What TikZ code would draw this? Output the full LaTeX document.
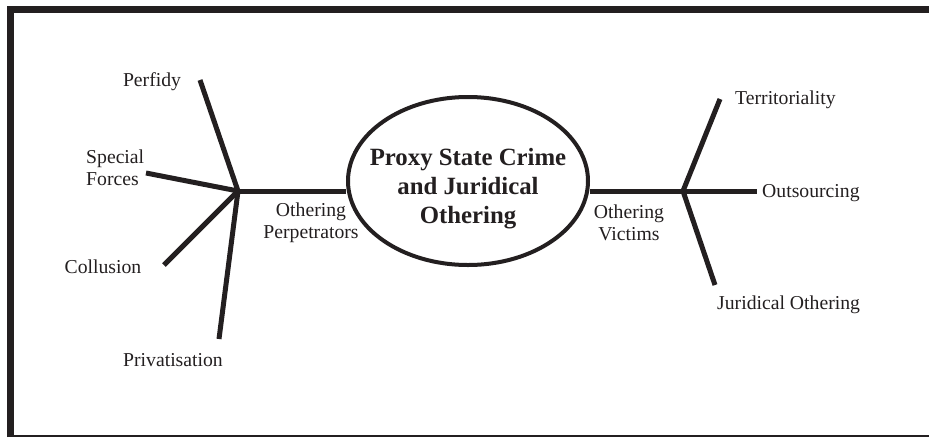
\documentclass[tikz,border=0pt]{standalone}
\usepackage{fontspec}
\setmainfont{Liberation Serif}
\usetikzlibrary{shapes.geometric}
\definecolor{psink}{HTML}{231F20}

\begin{document}
\begin{tikzpicture}[x=1pt, y=-1pt,
    branch/.style={draw=psink, line width=5pt},
    leaf/.style={text=psink, inner sep=0pt, align=center,
                 font=\fontsize{19.7}{22}\selectfont},
    coreshape/.style={ellipse, draw=psink, line width=4pt,
                      minimum width=240pt, minimum height=168pt, inner sep=0pt},
    coretext/.style={text=psink, inner sep=0pt, align=center,
                     font=\bfseries\fontsize{24.8}{29}\selectfont}]
  \useasboundingbox (0,0) rectangle (929,437);
  % frame
  \draw[psink, line width=7pt] (10.5,437) -- (10.5,9.5) -- (929,9.5);
  \draw[psink, line width=2.5pt] (7,435.75) -- (929,435.75);
  % centre
  \node[coreshape] (core) at (468,181) {};
  \node[coretext] (title) at (468,188.5)
    {Proxy State Crime\\and Juridical\\Othering};
  \coordinate (lhub) at (238,191);
  \coordinate (rhub) at (683,191);
  \draw[branch] (lhub) -- (lhub -| core.west);
  \draw[branch] (rhub) -- (rhub -| core.east);
  \node[leaf] (perp) at (311,223) {Othering\\Perpetrators};
  \node[leaf] (vict) at (629,223) {Othering\\Victims};
  % left fan
  \foreach \name/\x/\y in {perfidy/200/80, forces/146/173,
                           collusion/164/265, private/219/339}
    {\coordinate (\name end) at (\x,\y);
     \draw[branch] (lhub) -- (\name end);}
  \node[leaf] (perfidy) at (152,82) {Perfidy};
  \node[leaf, anchor=west, align=left] (forces) at (86,168) {Special\\Forces};
  \node[leaf] (collusion) at (103,267) {Collusion};
  \node[leaf] (private) at (173,360) {Privatisation};
  % right fan
  \foreach \name/\x/\y in {territory/720/99, outsource/757/191,
                           juridical/715/285}
    {\coordinate (\name end) at (\x,\y);
     \draw[branch] (rhub) -- (\name end);}
  \node[leaf, anchor=west] (territory) at (735,100) {Territoriality};
  \node[leaf, anchor=west] (outsource) at (762,193) {Outsourcing};
  \node[leaf, anchor=west] (juridical) at (717,305) {Juridical Othering};
\end{tikzpicture}
\end{document}
